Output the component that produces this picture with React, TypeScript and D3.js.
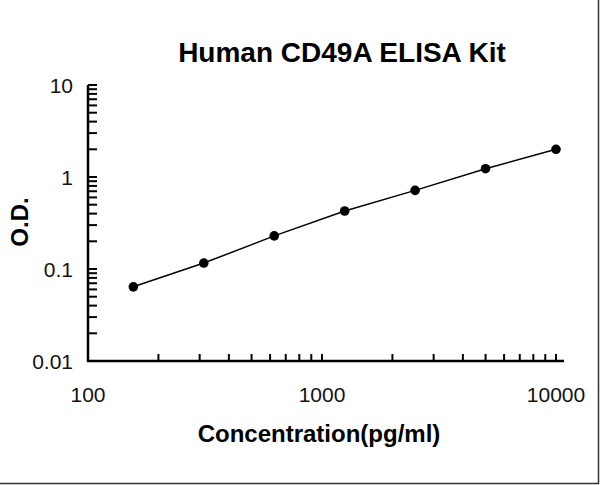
import * as d3 from 'd3';

// standard curve
const concentration = [156.25, 312.5, 625, 1250, 2500, 5000, 10000];
const od = [0.064, 0.116, 0.229, 0.427, 0.716, 1.23, 2.0];

const xTickLabels = [100, 1000, 10000];
const yTickLabels = [0.01, 0.1, 1, 10];

const W = 600;
const H = 485;
const FONT = '"Liberation Sans", Arial, sans-serif';

export default function App() {
  const x = d3.scaleLog().domain([100, 10000]).range([88, 556]);
  const y = d3.scaleLog().domain([0.01, 10]).range([361, 85]);

  // minor ticks 2..9 for every decade
  const decadeTicks = (lo: number, hi: number) => {
    const out: number[] = [];
    for (let d = lo; d < hi; d *= 10) {
      for (let k = 2; k <= 10; k++) out.push(d * k);
    }
    return out;
  };
  const xTicks = decadeTicks(100, 10000);
  const yTicks = decadeTicks(0.01, 10);

  const pts = concentration.map((c, i) => [c, od[i]] as [number, number]);
  const line = d3
    .line<[number, number]>()
    .x((d) => x(d[0]))
    .y((d) => y(d[1]));

  const x0 = x.range()[0];
  const y0 = y.range()[0];

  return (
    <svg
      width={W}
      height={H}
      style={{ position: 'absolute', left: 0, top: 0, background: '#fff' }}
    >
      <rect x={0} y={0} width={W} height={H} fill="#fff" />
      {/* frame on right and bottom edges */}
      <line x1={598.5} y1={0} x2={598.5} y2={484} stroke="#333" strokeWidth={1.5} />
      <line x1={0} y1={483.5} x2={599} y2={483.5} stroke="#333" strokeWidth={1.5} />

      <text
        x={342}
        y={62}
        textAnchor="middle"
        fontFamily={FONT}
        fontWeight="bold"
        fontSize={28}
        fill="#000"
      >
        Human CD49A ELISA Kit
      </text>

      {/* y axis */}
      <line x1={x0} y1={y.range()[1]} x2={x0} y2={y0 + 1} stroke="#000" strokeWidth={2.5} />
      {yTicks.map((t, i) => (
        <line key={i} x1={x0} x2={x0 + 9} y1={y(t)} y2={y(t)} stroke="#000" strokeWidth={2} />
      ))}
      {yTickLabels.map((t) => (
        <text
          key={t}
          x={73}
          y={y(t) + 8}
          textAnchor="end"
          fontFamily={FONT}
          fontSize={21}
          fill="#111"
        >
          {t}
        </text>
      ))}

      {/* x axis */}
      <line x1={x0 - 1} y1={y0} x2={x.range()[1] + 8} y2={y0} stroke="#000" strokeWidth={2.5} />
      {xTicks.map((t, i) => (
        <line key={i} x1={x(t)} x2={x(t)} y1={y0} y2={y0 - 7} stroke="#000" strokeWidth={2} />
      ))}
      {xTickLabels.map((t) => (
        <text
          key={t}
          x={x(t)}
          y={402}
          textAnchor="middle"
          fontFamily={FONT}
          fontSize={21}
          fill="#111"
        >
          {t}
        </text>
      ))}

      {/* data */}
      <path d={line(pts) || ''} fill="none" stroke="#000" strokeWidth={1.5} />
      {pts.map((d, i) => (
        <circle key={i} cx={x(d[0])} cy={y(d[1])} r={4.8} fill="#000" />
      ))}

      <text
        x={319}
        y={442}
        textAnchor="middle"
        fontFamily={FONT}
        fontWeight="bold"
        fontSize={24}
        fill="#000"
      >
        Concentration(pg/ml)
      </text>
      <text
        transform="translate(28,222) rotate(-90)"
        textAnchor="middle"
        fontFamily={FONT}
        fontWeight="bold"
        fontSize={24}
        fill="#000"
      >
        O.D.
      </text>
    </svg>
  );
}
